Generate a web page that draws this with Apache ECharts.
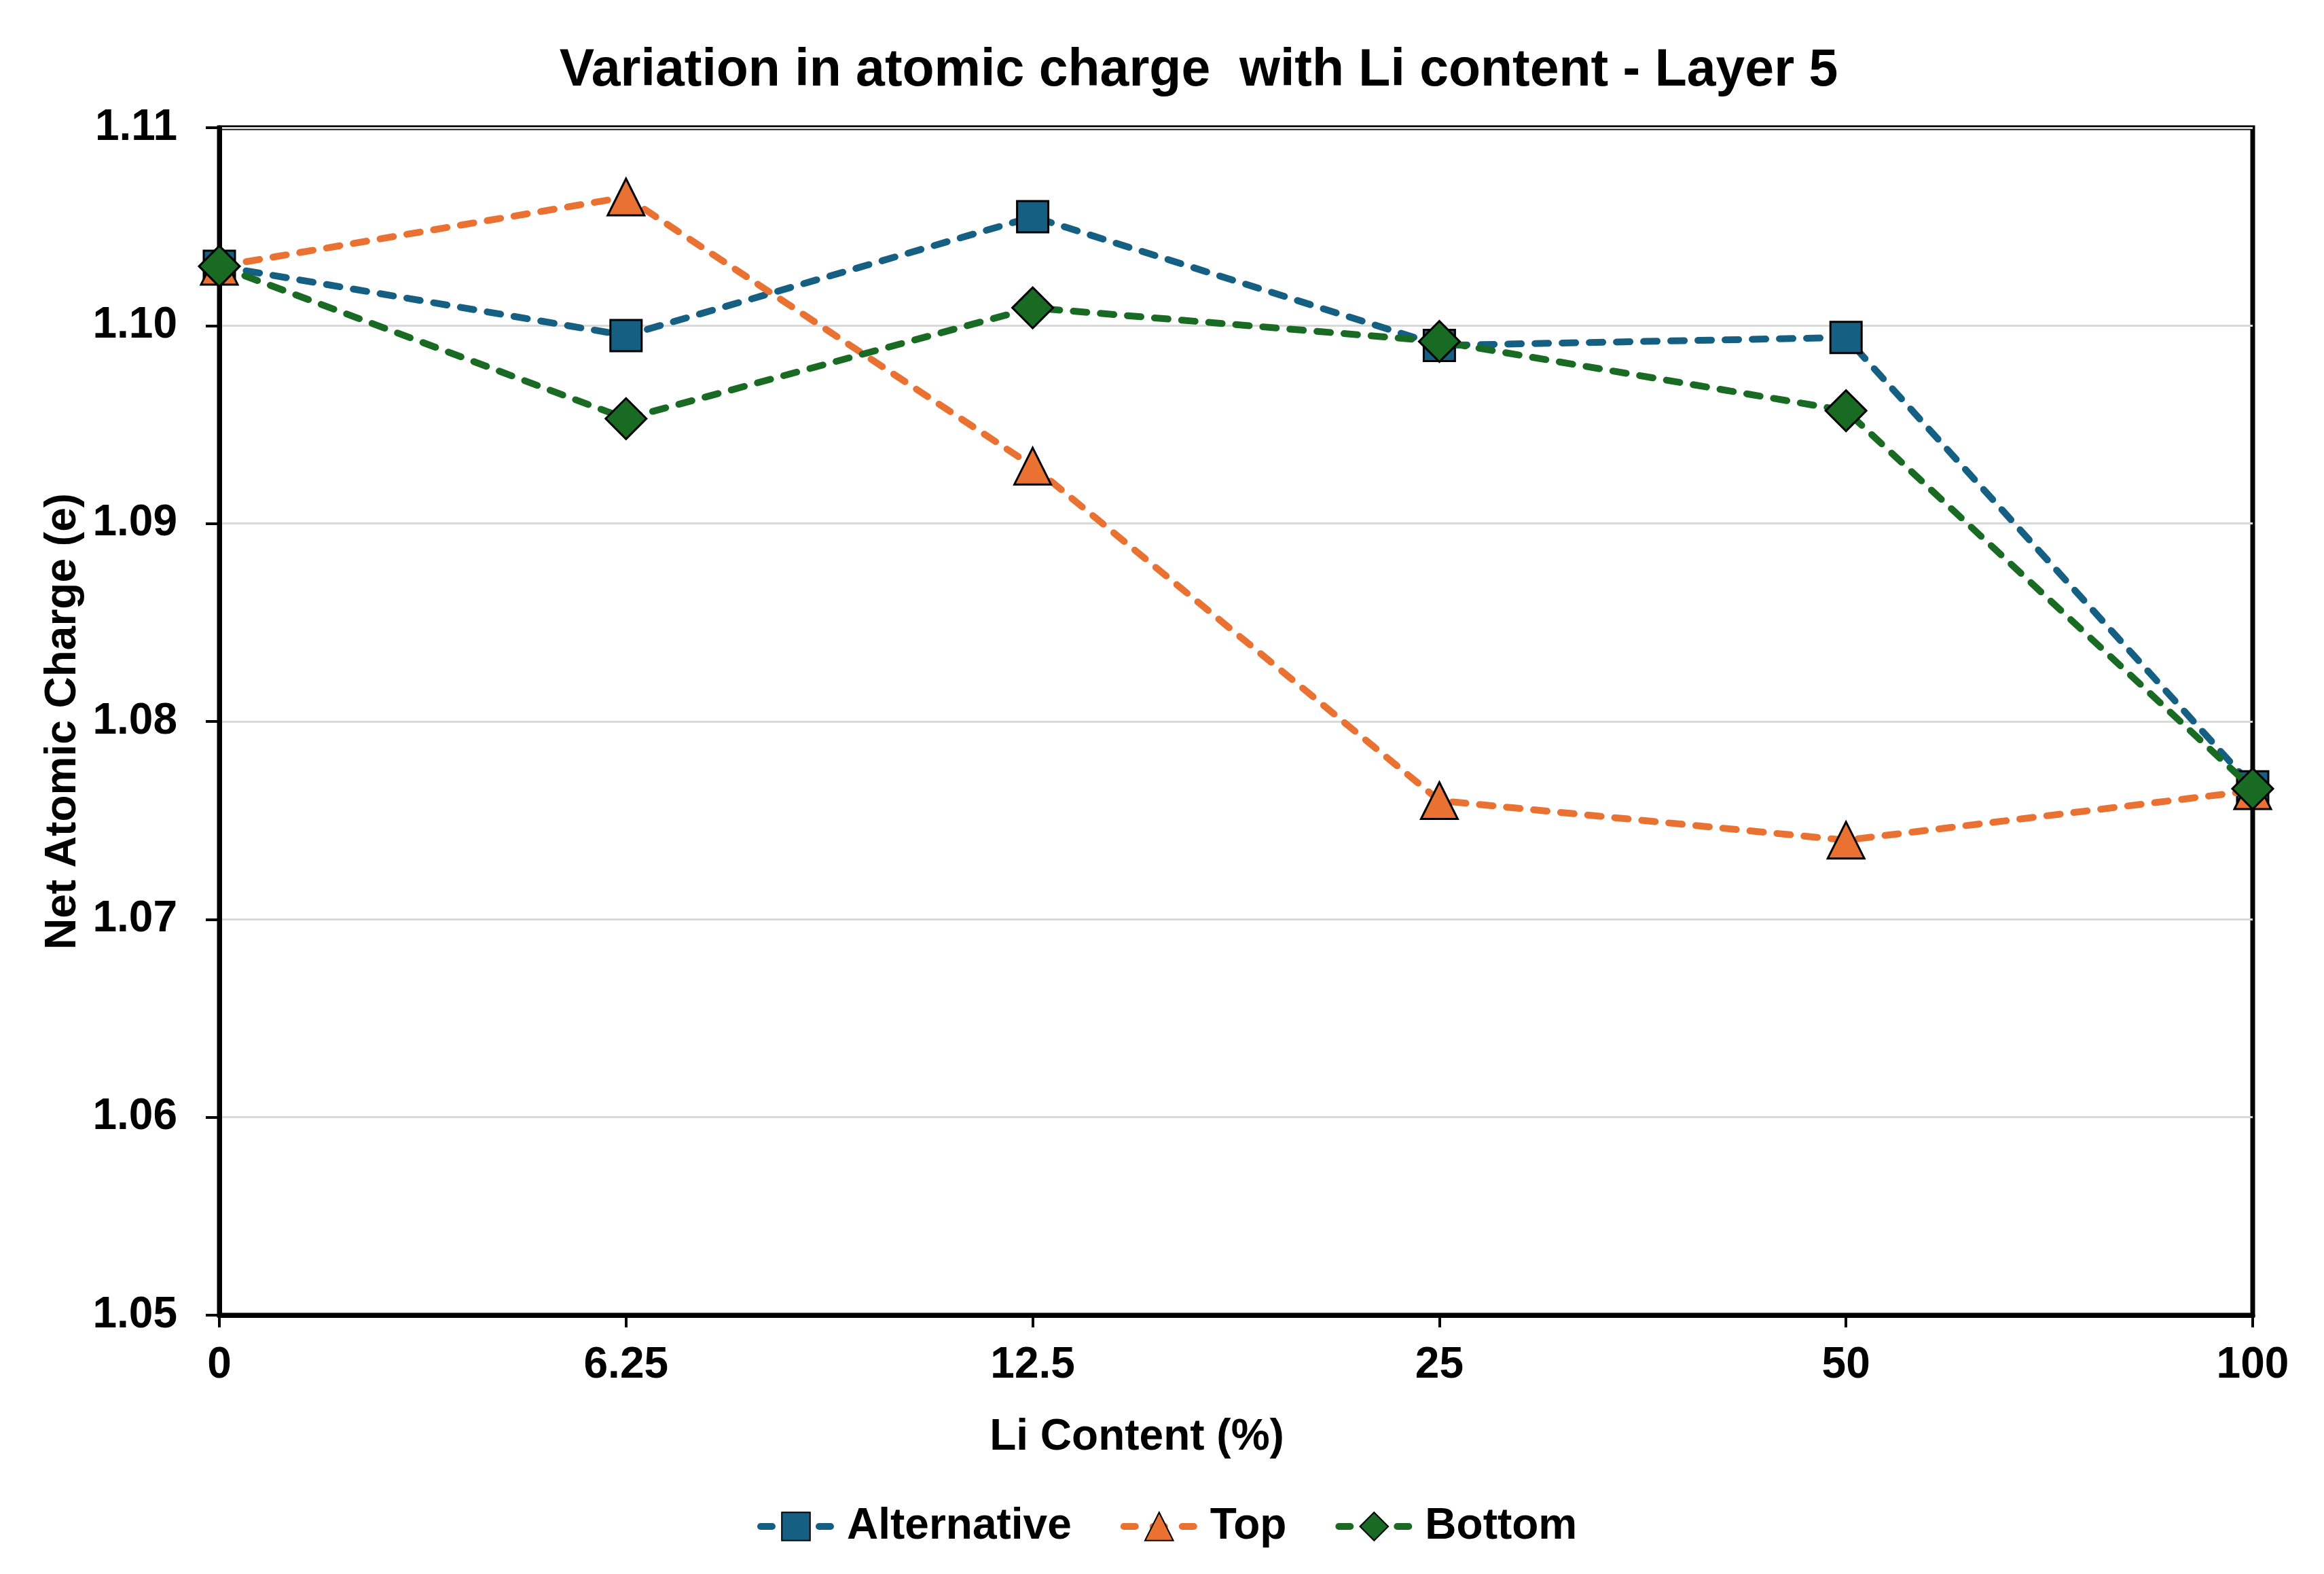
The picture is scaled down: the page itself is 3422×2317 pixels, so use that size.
<!DOCTYPE html>
<html>
<head>
<meta charset="utf-8">
<script src="https://cdn.jsdelivr.net/npm/echarts@6/dist/echarts.min.js"></script>
<style>
html,body{margin:0;padding:0;background:#fff;}
#chart{width:3422px;height:2317px;}
</style>
</head>
<body>
<div id="chart"></div>
<script>
const categories = ['0', '6.25', '12.5', '25', '50', '100'];
const alternativeValues = [1.1030, 1.0995, 1.1055, 1.0990, 1.0994, 1.0767];
const topValues = [1.1030, 1.1065, 1.0929, 1.0760, 1.0740, 1.0765];
const bottomValues = [1.1030, 1.0953, 1.1009, 1.0992, 1.0957, 1.0766];
const seriesNames = ['Alternative', 'Top', 'Bottom'];
const yTicks = [1.05, 1.06, 1.07, 1.08, 1.09, 1.10, 1.11];

const FONT = "'Liberation Sans', Arial, sans-serif";
const colors = ['#156082', '#E97132', '#196B24'];
const symbols = ['rect', 'triangle', 'diamond'];
const symbolSizes = [46, 54, 60];
const dataSets = [alternativeValues, topValues, bottomValues];

const chart = echarts.init(document.getElementById('chart'), null, {renderer: 'canvas', devicePixelRatio: 1});

const series = seriesNames.map((name, i) => ({
  name: name,
  type: 'line',
  data: dataSets[i],
  symbol: symbols[i],
  symbolSize: symbolSizes[i],
  itemStyle: {color: colors[i], borderColor: '#000000', borderWidth: 3},
  lineStyle: {color: colors[i], width: 10, type: [20, 20], cap: 'round'},
  emphasis: {disabled: true},
  z: 3 + i
}));

chart.setOption({
  animation: false,
  backgroundColor: '#ffffff',
  grid: {
    left: 323, right: 105, top: 188, bottom: 381,
    show: true, borderColor: '#000000', borderWidth: 7, backgroundColor: 'transparent'
  },
  graphic: [
    {type: 'text', x: 1765, y: 105, z: 10,
     style: {text: 'Variation in atomic charge  with Li content - Layer 5', fill: '#000',
       font: "bold 77px 'Liberation Sans', Arial, sans-serif", align: 'center', verticalAlign: 'middle'}},
    {type: 'text', x: 1674, y: 2116, z: 10,
     style: {text: 'Li Content (%)', fill: '#000',
       font: "bold 64px 'Liberation Sans', Arial, sans-serif", align: 'center', verticalAlign: 'middle'}}
  ],
  legend: {
    data: seriesNames,
    left: 1110,
    top: 2210,
    itemWidth: 104,
    itemHeight: 52,
    itemGap: 72,
    lineStyle: {width: 10, type: [17, 26], cap: 'round'},
    textStyle: {fontFamily: FONT, fontWeight: 'bold', fontSize: 64, color: '#000', padding: [0, 0, 0, 18]}
  },
  xAxis: {
    type: 'category',
    data: categories,
    boundaryGap: false,
    axisLine: {show: true, onZero: false, lineStyle: {color: '#000', width: 7}},
    axisTick: {show: true, alignWithLabel: true, length: 18, lineStyle: {color: '#000', width: 4}},
    axisLabel: {fontFamily: FONT, fontWeight: 'bold', fontSize: 64, color: '#000', margin: 42},
    splitLine: {show: false}
  },
  yAxis: {
    type: 'value',
    min: yTicks[0],
    max: yTicks[yTicks.length - 1],
    interval: 0.01,
    name: 'Net Atomic Charge (e)',
    nameLocation: 'middle',
    nameGap: 180,
    nameTextStyle: {fontFamily: FONT, fontWeight: 'bold', fontSize: 64, color: '#000'},
    axisLine: {show: true, lineStyle: {color: '#000', width: 7}},
    axisTick: {show: true, length: 20, lineStyle: {color: '#000', width: 4}},
    axisLabel: {fontFamily: FONT, fontWeight: 'bold', fontSize: 64, color: '#000', margin: 62,
      formatter: v => v.toFixed(2)},
    splitLine: {show: true, lineStyle: {color: '#D9D9D9', width: 3}}
  },
  series: series
});
</script>
</body>
</html>
